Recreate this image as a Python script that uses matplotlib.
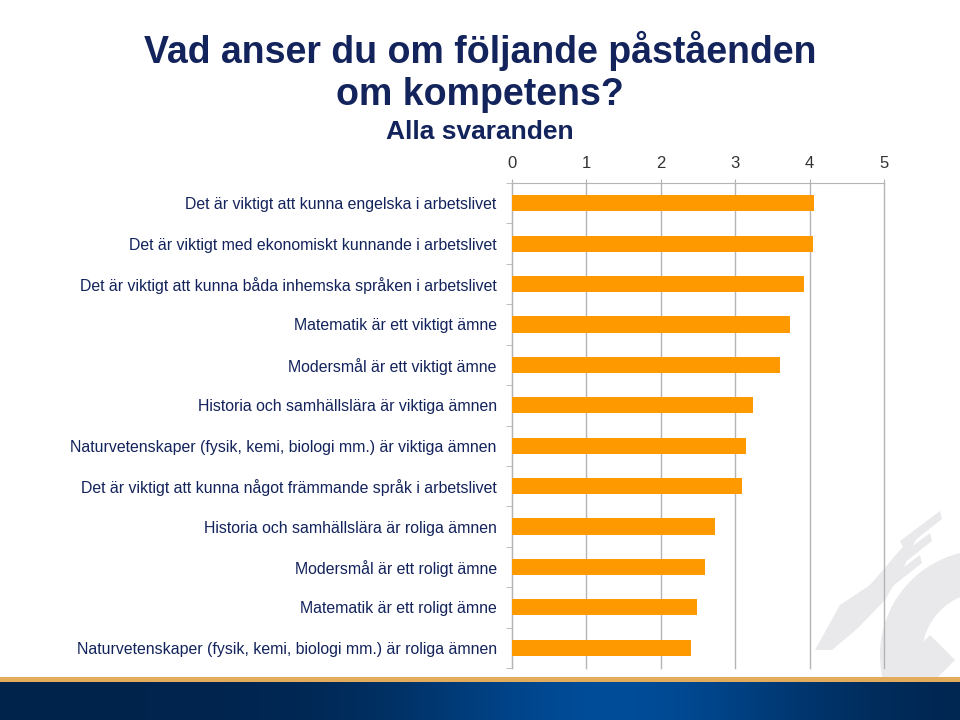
import numpy as np
import matplotlib
matplotlib.use("Agg")
import matplotlib.pyplot as plt
from matplotlib.patches import Polygon, Wedge

# ------------------------------------------------------
# Survey data: mean answer per statement (scale 0-5)
# ------------------------------------------------------
statements = [
    "Det är viktigt att kunna engelska i arbetslivet",
    "Det är viktigt med ekonomiskt kunnande i arbetslivet",
    "Det är viktigt att kunna båda inhemska språken i arbetslivet",
    "Matematik är ett viktigt ämne",
    "Modersmål är ett viktigt ämne",
    "Historia och samhällslära är viktiga ämnen",
    "Naturvetenskaper (fysik, kemi, biologi mm.) är viktiga ämnen",
    "Det är viktigt att kunna något främmande språk i arbetslivet",
    "Historia och samhällslära är roliga ämnen",
    "Modersmål är ett roligt ämne",
    "Matematik är ett roligt ämne",
    "Naturvetenskaper (fysik, kemi, biologi mm.) är roliga ämnen",
]
means = [4.06, 4.05, 3.92, 3.74, 3.60, 3.24, 3.15, 3.09, 2.73, 2.59, 2.49, 2.40]
x_ticks = [0, 1, 2, 3, 4, 5]

title = "Vad anser du om följande påståenden\nom kompetens?"
subtitle = "Alla svaranden"

navy = "#13235b"
bar_color = "#ff9900"
grid_color = "#b4b4b4"

plt.rcParams["font.family"] = ["Liberation Sans", "DejaVu Sans"]

fig = plt.figure(figsize=(9.6, 7.2), dpi=100)
fig.patch.set_facecolor("white")

# ------------------------------------------------------
# Faint watermark logo (bottom right)
# ------------------------------------------------------
bg = fig.add_axes([0, 0, 1, 1], zorder=-5)
bg.set_xlim(0, 960)
bg.set_ylim(720, 0)
bg.axis("off")
wm = "#e9e9eb"
bg.add_patch(Wedge((985, 655), 105, 115, 265, width=42, color=wm, lw=0))
bg.add_patch(Polygon([[905, 660], [930, 635], [955, 660], [930, 685]], color=wm, lw=0))
bg.add_patch(Polygon([[815, 650], [840, 605], [870, 585], [900, 550], [920, 530],
                      [905, 565], [885, 600], [858, 628], [832, 650]], color=wm, lw=0))
for k in range(3):
    x0 = 880 + k * 10
    y0 = 585 - k * 22
    bg.add_patch(Polygon([[x0, y0], [x0 + 40, y0 - 30], [x0 + 42, y0 - 22], [x0 + 4, y0 + 8]],
                         color=wm, lw=0))

# ------------------------------------------------------
# Bottom band
# ------------------------------------------------------
band = fig.add_axes([0, 0, 1, 38 / 720], zorder=-4)
gx = np.linspace(0, 1, 400)
glow = np.exp(-((gx - 0.64) / 0.22) ** 2)
dark = np.array([0.0, 0.14, 0.30])
light = np.array([0.0, 0.30, 0.60])
row = dark[None, :] + (light - dark)[None, :] * glow[:, None]
band.imshow(row[None, :, :], aspect="auto", extent=[0, 1, 0, 1])
band.axis("off")
stripe = fig.add_axes([0, 38 / 720, 1, 5 / 720], zorder=-4)
stripe.set_facecolor("#e2ac5c")
stripe.set_xticks([])
stripe.set_yticks([])
for s in stripe.spines.values():
    s.set_visible(False)

# ------------------------------------------------------
# Titles
# ------------------------------------------------------
fig.text(0.5, 0.957, title, ha="center", va="top", fontsize=27,
         fontweight="bold", color=navy, linespacing=1.2)
fig.text(0.5, 0.817, subtitle, ha="center", va="center", fontsize=19,
         fontweight="bold", color=navy)

# ------------------------------------------------------
# Bar chart
# ------------------------------------------------------
ax = fig.add_axes([512 / 960, 1 - 668 / 720, 372 / 960, 485 / 720])
ax.patch.set_alpha(0)
y = np.arange(len(statements))
ax.barh(y, means, height=0.4, color=bar_color, zorder=3)

ax.set_xlim(0, 5)
ax.set_ylim(len(statements) - 0.5, -0.5)
ax.set_xticks(x_ticks)
ax.xaxis.tick_top()
ax.tick_params(axis="x", length=3, color=grid_color, labelsize=12,
               labelcolor="#333333", pad=6)
ax.grid(axis="x", color=grid_color, linewidth=1, zorder=0)
for gl in ax.get_xgridlines():
    gl.set_clip_on(False)

ax.set_yticks(y)
ax.set_yticklabels(statements, fontsize=11.4, color=navy)
ax.tick_params(axis="y", which="major", length=0, pad=11)
ax.set_yticks(np.arange(-0.5, len(statements)), minor=True)
ax.tick_params(axis="y", which="minor", length=4, color=grid_color)

for side in ["right", "bottom"]:
    ax.spines[side].set_visible(False)
for side in ["left", "top"]:
    ax.spines[side].set_color(grid_color)

fig.savefig("out.png", dpi=100, facecolor="white")
